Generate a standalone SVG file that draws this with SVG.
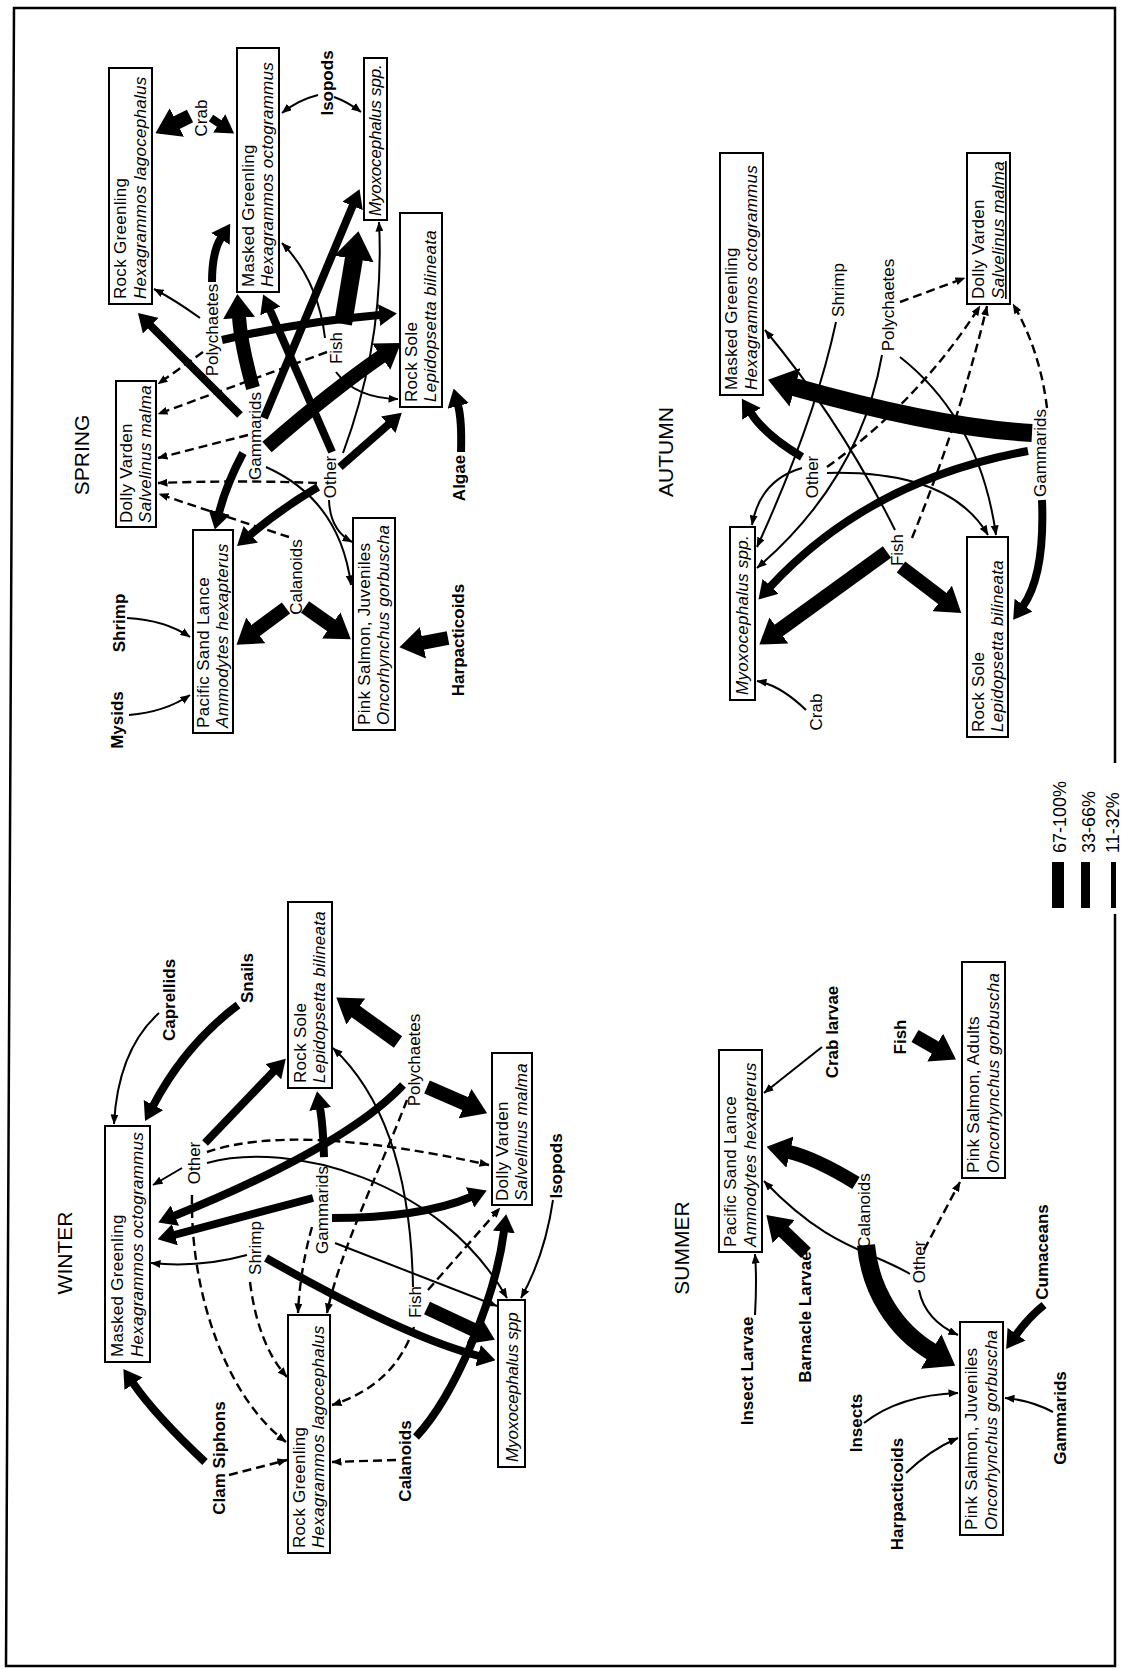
<svg xmlns="http://www.w3.org/2000/svg" width="1121" height="1669" viewBox="0 0 1121 1669">
<style>
.t{fill:none;stroke:#000;stroke-width:2;marker-end:url(#ht)}
.d{fill:none;stroke:#000;stroke-width:2.4;stroke-dasharray:9 5;marker-end:url(#ht)}
.m{fill:none;stroke:#000;stroke-width:8;marker-end:url(#hm)}
.k{fill:none;stroke:#000;stroke-width:14;marker-end:url(#hk)}
.x{fill:none;stroke:#000;stroke-width:18;marker-end:url(#hx)}
text{font-family:"Liberation Sans",Arial,sans-serif;font-size:17px;fill:#000}
.bx rect{fill:#fff;stroke:#000;stroke-width:2}
.bx text{letter-spacing:0.3px}
.it{font-style:italic}
.lb{text-anchor:middle;dominant-baseline:central}
.b{font-weight:bold}
.ttl{font-size:21px}
.lg{font-size:18px}
</style>
<defs>
<marker id="ht" viewBox="0 0 10 8" refX="9.5" refY="4" markerWidth="10" markerHeight="8" orient="auto" markerUnits="userSpaceOnUse"><path d="M0,0 L10,4 L0,8 z"/></marker>
<marker id="hm" viewBox="0 0 18 22" refX="1" refY="11" markerWidth="18" markerHeight="22" orient="auto" markerUnits="userSpaceOnUse"><path d="M0,0 L18,11 L0,22 z"/></marker>
<marker id="hk" viewBox="0 0 24 32" refX="1" refY="16" markerWidth="24" markerHeight="32" orient="auto" markerUnits="userSpaceOnUse"><path d="M0,0 L24,16 L0,32 z"/></marker>
<marker id="hx" viewBox="0 0 28 40" refX="1" refY="20" markerWidth="28" markerHeight="40" orient="auto" markerUnits="userSpaceOnUse"><path d="M0,0 L28,20 L0,40 z"/></marker>
</defs>
<rect width="1121" height="1669" fill="#fff"/>
<path d="M1115,763 V8 H14 L6,1666 H1115 V914" fill="none" stroke="#000" stroke-width="2.5"/>

<g id="connectors">
<!-- spring -->
<path class="k" d="M190,116 L176,123"/>
<path class="m" d="M211,118 L220,124"/>
<path class="t" d="M318,95 Q298,100 282,113"/>
<path class="t" d="M334,97 Q348,102 361,112"/>
<path class="t" d="M200,318 Q175,300 154,289"/>
<path class="m" d="M212,282 Q212,252 221,238"/>
<path class="m" d="M222,340 Q300,322 380,315"/>
<path class="d" d="M203,352 L158,384"/>
<path class="d" d="M327,352 L158,414"/>
<path class="t" d="M325,338 Q318,280 282,243"/>
<path class="t" d="M336,372 Q355,398 398,399"/>
<path class="x" d="M343,324 L354,258"/>
<path class="k" d="M253,388 Q241,345 239,317"/>
<path class="m" d="M264,418 L353,205"/>
<path class="k" d="M267,447 Q330,392 382,356"/>
<path class="d" d="M248,435 L158,458"/>
<path class="m" d="M240,415 L150,325"/>
<path class="m" d="M243,453 Q226,485 219,513"/>
<path class="t" d="M266,467 Q340,500 351,585"/>
<path class="m" d="M332,452 L270,310"/>
<path class="t" d="M343,453 Q385,340 379,222"/>
<path class="m" d="M340,467 L389,424"/>
<path class="d" d="M317,483 Q240,480 158,483"/>
<path class="m" d="M318,487 Q282,508 250,535"/>
<path class="t" d="M329,500 Q330,530 352,542"/>
<path class="d" d="M289,537 Q230,518 159,494"/>
<path class="k" d="M286,608 L255,631"/>
<path class="k" d="M305,607 L332,626"/>
<path class="k" d="M448,638 L422,643"/>
<path class="t" d="M127,618 Q165,620 190,637"/>
<path class="t" d="M129,715 Q165,712 190,695"/>
<path class="m" d="M461,452 Q462,420 458,405"/>
<!-- winter -->
<path class="t" d="M159,1013 Q118,1050 114,1124"/>
<path class="m" d="M238,1005 Q185,1045 153,1106"/>
<path class="m" d="M205,1143 L274,1071"/>
<path class="d" d="M207,1152 Q294,1122 489,1165"/>
<path class="t" d="M207,1163 C290,1140 440,1180 507,1298"/>
<path class="t" d="M182,1168 L153,1185"/>
<path class="d" d="M192,1195 C190,1300 230,1400 286,1442"/>
<path class="k" d="M398,1042 L355,1011"/>
<path class="k" d="M427,1087 L466,1104"/>
<path class="m" d="M403,1085 Q346,1146 174,1216"/>
<path class="d" d="M407,1100 C380,1170 340,1250 327,1313"/>
<path class="m" d="M324,1157 Q323,1125 320,1108"/>
<path class="m" d="M313,1198 L174,1235"/>
<path class="m" d="M332,1218 Q420,1218 471,1197"/>
<path class="t" d="M335,1243 L497,1306"/>
<path class="d" d="M312,1227 Q300,1270 298,1313"/>
<path class="t" d="M247,1255 Q200,1268 151,1263"/>
<path class="m" d="M266,1258 Q405,1337 479,1356"/>
<path class="d" d="M250,1282 Q258,1345 287,1377"/>
<path class="t" d="M413,1287 Q410,1120 333,1048"/>
<path class="k" d="M427,1308 L474,1330"/>
<path class="d" d="M414,1327 Q395,1385 332,1405"/>
<path class="d" d="M428,1290 L500,1208"/>
<path class="m" d="M416,1437 C455,1395 495,1300 504,1231"/>
<path class="d" d="M396,1460 L332,1462"/>
<path class="m" d="M205,1462 Q155,1415 133,1383"/>
<path class="d" d="M229,1475 L287,1460"/>
<path class="t" d="M553,1200 Q545,1255 521,1298"/>
<!-- autumn -->
<path class="x" d="M1032,433 Q940,428 794,387"/>
<path class="m" d="M1028,451 Q869,480 770,587"/>
<path class="m" d="M1042,500 Q1045,575 1023,606"/>
<path class="d" d="M1047,408 Q1040,350 1013,304"/>
<path class="m" d="M802,457 Q765,435 751,413"/>
<path class="t" d="M802,468 Q760,480 752,525"/>
<path class="d" d="M827,467 Q920,400 980,306"/>
<path class="t" d="M827,473 Q950,470 988,535"/>
<path class="t" d="M836,322 Q815,420 757,547"/>
<path class="t" d="M882,355 Q860,480 757,568"/>
<path class="t" d="M900,357 Q980,420 996,535"/>
<path class="d" d="M900,302 L965,278"/>
<path class="t" d="M895,530 Q840,420 765,330"/>
<path class="d" d="M912,538 Q960,420 987,306"/>
<path class="k" d="M887,552 L778,631"/>
<path class="k" d="M901,567 L943,599"/>
<path class="t" d="M806,710 Q780,685 757,681"/>
<!-- summer -->
<path class="t" d="M822,1047 L764,1093"/>
<path class="k" d="M856,1183 Q815,1158 789,1152"/>
<path class="x" d="M866,1245 C870,1290 895,1330 932,1352"/>
<path class="t" d="M910,1274 C870,1250 830,1250 764,1181"/>
<path class="d" d="M924,1250 Q945,1210 960,1182"/>
<path class="t" d="M919,1290 Q925,1320 958,1335"/>
<path class="k" d="M915,1036 L936,1048"/>
<path class="k" d="M806,1253 L783,1231"/>
<path class="t" d="M755,1315 Q757,1280 755,1254"/>
<path class="t" d="M864,1423 Q900,1395 958,1393"/>
<path class="t" d="M906,1473 Q930,1450 958,1438"/>
<path class="t" d="M1053,1412 Q1030,1400 1005,1398"/>
<path class="m" d="M1044,1305 Q1028,1318 1016,1335"/>
</g>

<!-- SPRING nodes -->
<g id="sp-rock-greenling" class="bx" transform="translate(109,304) rotate(-90)"><rect width="236" height="43"/><text x="5" y="17">Rock Greenling</text><text class="it" x="5" y="37">Hexagrammos lagocephalus</text></g>
<g id="sp-masked-greenling" class="bx" transform="translate(237,292) rotate(-90)"><rect width="244" height="42"/><text x="5" y="17">Masked Greenling</text><text class="it" x="5" y="36">Hexagrammos octogrammus</text></g>
<g id="sp-myoxocephalus" class="bx" transform="translate(364,220) rotate(-90)"><rect width="162" height="23"/><text class="it" x="4" y="17" textLength="152">Myoxocephalus spp.</text></g>
<g id="sp-rock-sole" class="bx" transform="translate(400,407) rotate(-90)"><rect width="194" height="42"/><text x="5" y="17">Rock Sole</text><text class="it" x="5" y="36">Lepidopsetta bilineata</text></g>
<g id="sp-dolly-varden" class="bx" transform="translate(116,527) rotate(-90)"><rect width="146" height="40"/><text x="4" y="16">Dolly Varden</text><text class="it" x="4" y="35">Salvelinus malma</text></g>
<g id="sp-sand-lance" class="bx" transform="translate(193,733) rotate(-90)"><rect width="203" height="40"/><text x="5" y="16">Pacific Sand Lance</text><text class="it" x="5" y="35">Ammodytes hexapterus</text></g>
<g id="sp-pink-juveniles" class="bx" transform="translate(353,730) rotate(-90)"><rect width="212" height="42"/><text x="5" y="17">Pink Salmon, Juveniles</text><text class="it" x="5" y="36">Oncorhynchus gorbuscha</text></g>
<g id="sp-title"><text class="lb ttl" transform="translate(81,455) rotate(-90)">SPRING</text></g>
<g id="sp-crab"><text class="lb" transform="translate(201,118) rotate(-90)">Crab</text></g>
<g id="sp-isopods"><text class="lb b" transform="translate(327,83) rotate(-90)">Isopods</text></g>
<g id="sp-polychaetes"><text class="lb" transform="translate(212,330) rotate(-90)">Polychaetes</text></g>
<g id="sp-fish"><text class="lb" transform="translate(336,348) rotate(-90)">Fish</text></g>
<g id="sp-gammarids"><text class="lb" transform="translate(255,436) rotate(-90)">Gammarids</text></g>
<g id="sp-other"><text class="lb" transform="translate(330,477) rotate(-90)">Other</text></g>
<g id="sp-algae"><text class="lb b" transform="translate(459,478) rotate(-90)">Algae</text></g>
<g id="sp-shrimp"><text class="lb b" transform="translate(119,623) rotate(-90)">Shrimp</text></g>
<g id="sp-mysids"><text class="lb b" transform="translate(117,720) rotate(-90)">Mysids</text></g>
<g id="sp-calanoids"><text class="lb" transform="translate(296,577) rotate(-90)">Calanoids</text></g>
<g id="sp-harpacticoids"><text class="lb b" transform="translate(458,640) rotate(-90)">Harpacticoids</text></g>

<!-- WINTER nodes -->
<g id="wi-masked-greenling" class="bx" transform="translate(105,1362) rotate(-90)"><rect width="236" height="45"/><text x="5" y="18">Masked Greenling</text><text class="it" x="5" y="38">Hexagrammos octogrammus</text></g>
<g id="wi-rock-sole" class="bx" transform="translate(288,1088) rotate(-90)"><rect width="186" height="44"/><text x="5" y="18">Rock Sole</text><text class="it" x="5" y="37">Lepidopsetta bilineata</text></g>
<g id="wi-dolly-varden" class="bx" transform="translate(492,1205) rotate(-90)"><rect width="152" height="40"/><text x="4" y="16">Dolly Varden</text><text class="it" x="4" y="35">Salvelinus malma</text></g>
<g id="wi-rock-greenling" class="bx" transform="translate(288,1553) rotate(-90)"><rect width="238" height="42"/><text x="5" y="17">Rock Greenling</text><text class="it" x="5" y="36">Hexagrammos lagocephalus</text></g>
<g id="wi-myoxocephalus" class="bx" transform="translate(498,1467) rotate(-90)"><rect width="167" height="27"/><text class="it" x="5" y="20" textLength="150">Myoxocephalus spp</text></g>
<g id="wi-title"><text class="lb ttl" transform="translate(64,1253) rotate(-90)">WINTER</text></g>
<g id="wi-caprellids"><text class="lb b" transform="translate(169,1000) rotate(-90)">Caprellids</text></g>
<g id="wi-snails"><text class="lb b" transform="translate(247,978) rotate(-90)">Snails</text></g>
<g id="wi-polychaetes"><text class="lb" transform="translate(414,1060) rotate(-90)">Polychaetes</text></g>
<g id="wi-other"><text class="lb" transform="translate(194,1163) rotate(-90)">Other</text></g>
<g id="wi-gammarids"><text class="lb" transform="translate(322,1210) rotate(-90)">Gammarids</text></g>
<g id="wi-shrimp"><text class="lb" transform="translate(255,1248) rotate(-90)">Shrimp</text></g>
<g id="wi-fish"><text class="lb" transform="translate(415,1302) rotate(-90)">Fish</text></g>
<g id="wi-clam-siphons"><text class="lb b" transform="translate(219,1458) rotate(-90)">Clam Siphons</text></g>
<g id="wi-calanoids"><text class="lb b" transform="translate(405,1461) rotate(-90)">Calanoids</text></g>
<g id="wi-isopods"><text class="lb b" transform="translate(556,1166) rotate(-90)">Isopods</text></g>

<!-- AUTUMN nodes -->
<g id="au-masked-greenling" class="bx" transform="translate(720,395) rotate(-90)"><rect width="242" height="43"/><text x="5" y="17">Masked Greenling</text><text class="it" x="5" y="37">Hexagrammos octogrammus</text></g>
<g id="au-dolly-varden" class="bx" transform="translate(967,304) rotate(-90)"><rect width="151" height="43"/><text x="5" y="17">Dolly Varden</text><text class="it" x="5" y="37" text-decoration="underline">Salvelinus malma</text></g>
<g id="au-myoxocephalus" class="bx" transform="translate(730,700) rotate(-90)"><rect width="173" height="25"/><text class="it" x="5" y="18" textLength="160">Myoxocephalus spp.</text></g>
<g id="au-rock-sole" class="bx" transform="translate(967,737) rotate(-90)"><rect width="200" height="41"/><text x="5" y="17">Rock Sole</text><text class="it" x="5" y="36">Lepidopsetta bilineata</text></g>
<g id="au-title"><text class="lb ttl" transform="translate(665,452) rotate(-90)">AUTUMN</text></g>
<g id="au-shrimp"><text class="lb" transform="translate(838,290) rotate(-90)">Shrimp</text></g>
<g id="au-polychaetes"><text class="lb" transform="translate(888,305) rotate(-90)">Polychaetes</text></g>
<g id="au-other"><text class="lb" transform="translate(812,477) rotate(-90)">Other</text></g>
<g id="au-gammarids"><text class="lb" transform="translate(1040,453) rotate(-90)">Gammarids</text></g>
<g id="au-fish"><text class="lb" transform="translate(897,550) rotate(-90)">Fish</text></g>
<g id="au-crab"><text class="lb" transform="translate(816,712) rotate(-90)">Crab</text></g>

<!-- SUMMER nodes -->
<g id="su-sand-lance" class="bx" transform="translate(719,1252) rotate(-90)"><rect width="202" height="43"/><text x="5" y="17">Pacific Sand Lance</text><text class="it" x="5" y="37">Ammodytes hexapterus</text></g>
<g id="su-pink-adults" class="bx" transform="translate(962,1178) rotate(-90)"><rect width="216" height="43"/><text x="5" y="17">Pink Salmon, Adults</text><text class="it" x="5" y="37">Oncorhynchus gorbuscha</text></g>
<g id="su-pink-juveniles" class="bx" transform="translate(960,1535) rotate(-90)"><rect width="213" height="43"/><text x="5" y="17">Pink Salmon, Juveniles</text><text class="it" x="5" y="37">Oncorhynchus gorbuscha</text></g>
<g id="su-title"><text class="lb ttl" transform="translate(681,1248) rotate(-90)">SUMMER</text></g>
<g id="su-crab-larvae"><text class="lb b" transform="translate(832,1032) rotate(-90)">Crab larvae</text></g>
<g id="su-fish"><text class="lb b" transform="translate(900,1037) rotate(-90)">Fish</text></g>
<g id="su-calanoids"><text class="lb" transform="translate(864,1211) rotate(-90)">Calanoids</text></g>
<g id="su-other"><text class="lb" transform="translate(919,1262) rotate(-90)">Other</text></g>
<g id="su-cumaceans"><text class="lb b" transform="translate(1042,1252) rotate(-90)">Cumaceans</text></g>
<g id="su-barnacle-larvae"><text class="lb b" transform="translate(805,1317) rotate(-90)">Barnacle Larvae</text></g>
<g id="su-insect-larvae"><text class="lb b" transform="translate(747,1371) rotate(-90)">Insect Larvae</text></g>
<g id="su-insects"><text class="lb b" transform="translate(856,1423) rotate(-90)">Insects</text></g>
<g id="su-harpacticoids"><text class="lb b" transform="translate(897,1494) rotate(-90)">Harpacticoids</text></g>
<g id="su-gammarids"><text class="lb b" transform="translate(1060,1418) rotate(-90)">Gammarids</text></g>

<!-- legend -->
<g id="legend">
<rect x="1052" y="862" width="12" height="46"/>
<rect x="1081" y="862" width="9" height="46"/>
<rect x="1111" y="862" width="5" height="46"/>
<text class="lg" transform="translate(1066,853) rotate(-90)">67-100%</text>
<text class="lg" transform="translate(1095,853) rotate(-90)">33-66%</text>
<text class="lg" transform="translate(1119,853) rotate(-90)">11-32%</text>
</g>
</svg>
